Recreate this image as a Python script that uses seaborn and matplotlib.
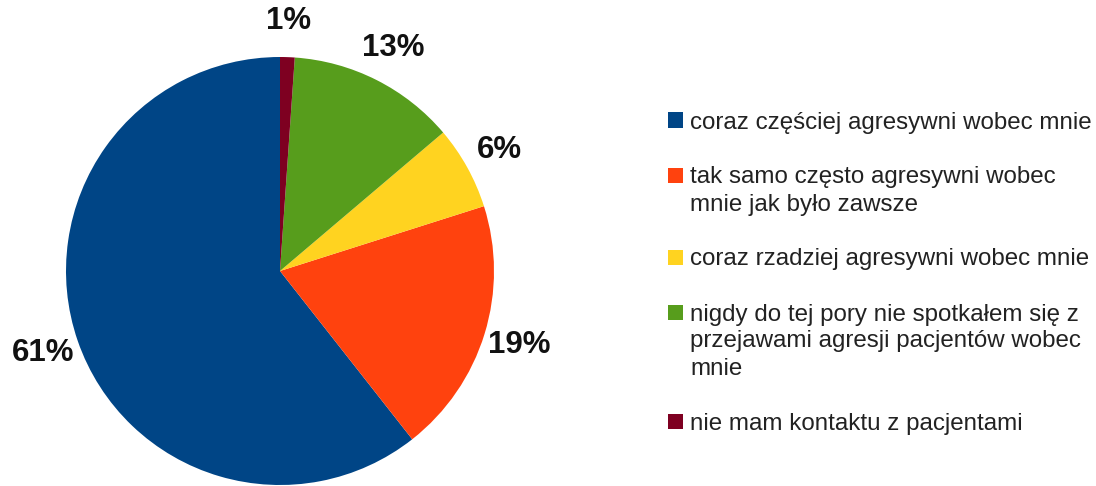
import matplotlib
matplotlib.use('Agg')
import matplotlib.pyplot as plt
from matplotlib.patches import Rectangle
import seaborn as sns

# ─── Data ──────────────────────────────────────────────────
categories = [
    'coraz częściej agresywni wobec mnie',
    'tak samo często agresywni wobec\nmnie jak było zawsze',
    'coraz rzadziej agresywni wobec mnie',
    'nigdy do tej pory nie spotkałem się z\nprzejawami agresji pacjentów wobec\nmnie',
    'nie mam kontaktu z pacjentami',
]
shares = [60.6, 19.3, 6.3, 12.7, 1.1]
colors = ['#004586', '#ff420e', '#ffd320', '#579d1c', '#7e0021']

sns.set_theme(style='white')
plt.rcParams['font.family'] = ['Liberation Sans', 'DejaVu Sans']

W, H = 1096, 486
fig = plt.figure(figsize=(W / 100, H / 100), dpi=100)
fig.patch.set_facecolor('white')

# pie axes: centre (280, 271) px from top-left, radius 214 px
cx, cy, r = 280, 271, 214
ax = fig.add_axes([(cx - r) / W, (H - cy - r) / H, 2 * r / W, 2 * r / H])

palette = sns.color_palette(colors)
wedges, texts, autotexts = ax.pie(
    shares, colors=palette, startangle=90, counterclock=True,
    autopct='%.0f%%', pctdistance=1.17,
    textprops=dict(fontsize=22.5, fontweight='bold', color='#111111'),
    wedgeprops=dict(linewidth=0),
)
ax.set_xlim(-1, 1)
ax.set_ylim(-1, 1)
ax.set_aspect('equal')
ax.axis('off')

# ─── Legend (handle lines up with first text line) ─────────
line_step = 27   # px between lines inside one entry
entry_gap = 55   # px between last line of an entry and the next one
y = 120          # centre of first line, px from top
box = 15
for label, col in zip(categories, palette):
    fig.patches.append(Rectangle(
        (668 / W, 1 - (y + box / 2) / H), box / W, box / H,
        transform=fig.transFigure, facecolor=col, edgecolor='none'))
    for i, part in enumerate(label.split('\n')):
        fig.text(690 / W, 1 - (y + i * line_step) / H, part,
                 ha='left', va='center_baseline', fontsize=17.4,
                 color='#222222')
    y += line_step * label.count('\n') + entry_gap

plt.savefig('out.png', dpi=100)
